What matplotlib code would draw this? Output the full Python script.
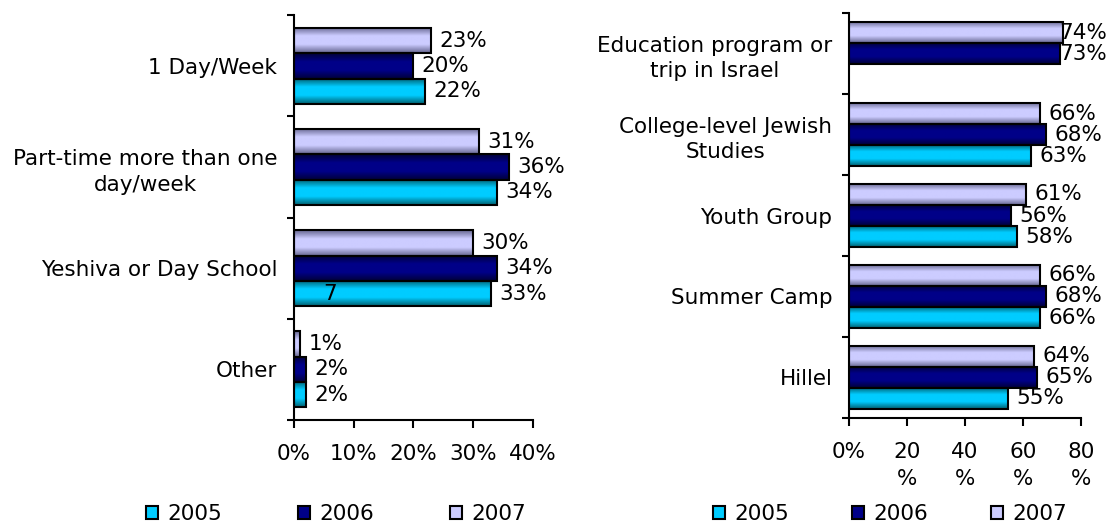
import numpy as np
import matplotlib
matplotlib.use("Agg")
import matplotlib.pyplot as plt
from matplotlib.colors import LinearSegmentedColormap
from matplotlib.patches import Patch

plt.rcParams['font.family'] = ['DejaVu Sans']
plt.rcParams['font.size'] = 15.5

years = ['2005', '2006', '2007']

left_cats = ['1 Day/Week', 'Part-time more than one\nday/week',
             'Yeshiva or Day School', 'Other']
left_2005 = [22, 34, 33, 2]
left_2006 = [20, 36, 34, 2]
left_2007 = [23, 31, 30, 1]
left_ticks = [0, 10, 20, 30, 40]
left_ticklabels = ['0%', '10%', '20%', '30%', '40%']

right_cats = ['Education program or\ntrip in Israel',
              'College-level Jewish\nStudies', 'Youth Group',
              'Summer Camp', 'Hillel']
right_2005 = [None, 63, 58, 66, 55]
right_2006 = [73, 68, 56, 68, 65]
right_2007 = [74, 66, 61, 66, 64]
right_ticks = [0, 20, 40, 60, 80]
right_ticklabels = ['0%', '20\n%', '40\n%', '60\n%', '80\n%']

# (dark edge, light middle) per year
shades = {
    '2005': ('#006070', '#00CCFF'),
    '2006': ('#000038', '#000088'),
    '2007': ('#666690', '#CCCCFF'),
}


def grad_barh(ax, y, w, h, year):
    dark, light = shades[year]
    cmap = LinearSegmentedColormap.from_list(year, [dark, light, light, dark])
    bar = ax.barh(y, w, height=h, color=light, edgecolor='none', zorder=2)[0]
    img = ax.imshow(np.linspace(0, 1, 64).reshape(-1, 1), cmap=cmap,
                    extent=(0, w, y + h / 2, y - h / 2), aspect='auto',
                    interpolation='bilinear', zorder=2.1)
    img.set_clip_path(bar)
    ax.barh(y, w, height=h, fill=False, edgecolor='black', linewidth=1.5, zorder=3)


def draw_panel(ax, cats, series, bar_h, xmax, ticks, ticklabels, lab_limit):
    n = len(cats)
    offsets = {'2007': -bar_h, '2006': 0.0, '2005': bar_h}
    for year, vals in zip(years, series):
        for i, v in enumerate(vals):
            if v is None:
                continue
            y = i + offsets[year]
            grad_barh(ax, y, v, bar_h, year)
            if v > lab_limit:
                ax.annotate(f'{v}%', (1.0, y), xycoords=('axes fraction', 'data'),
                            xytext=(19, 0), textcoords='offset points',
                            ha='right', va='center', annotation_clip=False)
            else:
                ax.annotate(f'{v}%', (v, y), xytext=(6, 0),
                            textcoords='offset points', ha='left', va='center',
                            annotation_clip=False)
    ax.set_xlim(0, xmax)
    ax.set_ylim(n - 0.5, -0.5)
    ax.set_xticks(ticks)
    ax.set_xticklabels(ticklabels, linespacing=1.45)
    ax.set_yticks(range(n))
    ax.set_yticklabels(cats, linespacing=1.35)
    for t in ax.get_yticklabels():
        t.set_multialignment('center')
    ax.set_yticks(np.arange(n + 1) - 0.5, minor=True)
    ax.tick_params(axis='y', which='major', length=0, pad=12)
    ax.tick_params(axis='y', which='minor', length=5, width=1.5, direction='out')
    ax.tick_params(axis='x', length=6, width=1.5, direction='out', pad=11)
    for s in ['top', 'right']:
        ax.spines[s].set_visible(False)
    for s in ['left', 'bottom']:
        ax.spines[s].set_linewidth(1.5)


fig = plt.figure(figsize=(11.09, 5.27), dpi=100)
ax1 = fig.add_axes([0.265, 0.203, 0.2155, 0.768])
ax2 = fig.add_axes([0.7655, 0.207, 0.209, 0.768])

draw_panel(ax1, left_cats, [left_2005, left_2006, left_2007], 0.25, 40,
           left_ticks, left_ticklabels, 100)
# stray label left in the original chart
ax1.text(6, 2.25, '7', ha='center', va='center')

draw_panel(ax2, right_cats, [right_2005, right_2006, right_2007], 0.26, 80,
           right_ticks, right_ticklabels, 70)

handles = [Patch(facecolor=shades[y][1], edgecolor='black', linewidth=1.5) for y in years]
fig.legend(handles, years, loc='center', bbox_to_anchor=(336 / 1109, 0.025), ncol=3,
           frameon=False, handlelength=0.56, handleheight=0.56, handletextpad=0.45,
           columnspacing=3.5, borderpad=0)
fig.legend(handles, years, loc='center', bbox_to_anchor=(890 / 1109, 0.025), ncol=3,
           frameon=False, handlelength=0.56, handleheight=0.56, handletextpad=0.45,
           columnspacing=2.9, borderpad=0)

fig.savefig('out.png', dpi=100)
